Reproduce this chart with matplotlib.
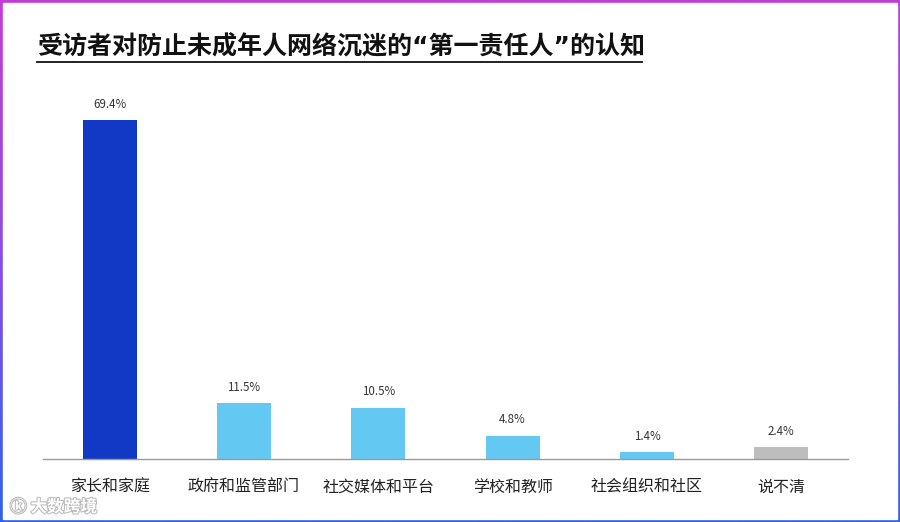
import numpy as np
import matplotlib
matplotlib.use("Agg")
import matplotlib.pyplot as plt
import matplotlib.patheffects as pe
import matplotlib.transforms as mtransforms
from matplotlib.patches import Rectangle

plt.rcParams['font.family'] = ['Noto Sans CJK SC', 'DejaVu Sans']

categories = ['家长和家庭', '政府和监管部门', '社交媒体和平台', '学校和教师', '社会组织和社区', '说不清']
values = [69.4, 11.5, 10.5, 4.8, 1.4, 2.4]
labels = ['69.4%', '11.5%', '10.5%', '4.8%', '1.4%', '2.4%']
colors = ['#1238C6', '#63C8F2', '#63C8F2', '#63C8F2', '#63C8F2', '#BDBDBD']

W, H = 900, 522
fig = plt.figure(figsize=(W / 100, H / 100), dpi=100)

# gradient frame
bg = fig.add_axes([0, 0, 1, 1], zorder=-2)
grad = np.linspace(0, 1, 256).reshape(-1, 1)
cmap = matplotlib.colors.LinearSegmentedColormap.from_list('frame', ['#C23CD6', '#8A4FE0', '#2F63E6'])
bg.imshow(grad, aspect='auto', cmap=cmap, extent=[0, 1, 0, 1], origin='upper')
bg.add_patch(Rectangle((3 / W, 3 / H), 1 - 6 / W, 1 - 6 / H, color='white', transform=bg.transAxes))
bg.set_axis_off()

ax = fig.add_axes([42.5 / W, 1 - 459 / H, 806 / W, 359 / H])
x = np.arange(len(categories))
bars = ax.bar(x, values, width=0.4, color=colors)
ax.set_xlim(-0.5, len(categories) - 0.5)
ax.set_ylim(0, 359 / 4.885)

for b, lab in zip(bars, labels):
    ax.text(b.get_x() + b.get_width() / 2, b.get_height() + 1.9, lab,
            ha='center', va='bottom', fontsize=8.3, color='#333333')

for s in ['top', 'right', 'left']:
    ax.spines[s].set_visible(False)
ax.spines['bottom'].set_color('#9A9A9A')
ax.spines['bottom'].set_linewidth(1)
ax.set_yticks([])
ax.set_xticks(x)
ax.set_xticklabels([])
ax.tick_params(axis='x', length=0)

# category labels on a common baseline
trans = mtransforms.blended_transform_factory(ax.transData, ax.transAxes)
base = -33 / 359
for xi, cat in zip(x, categories):
    ax.text(xi, base, cat, transform=trans, ha='center', va='baseline',
            fontsize=11.5, color='#222222')

# title with underline
fig.text(37 / W, 1 - 47 / H, '受访者对防止未成年人网络沉迷的“第一责任人”的认知',
         fontsize=18, fontweight='bold', ha='left', va='center', color='#111111',
         family=['DejaVu Sans', 'Noto Sans CJK SC'])
fig.add_artist(plt.Line2D([37 / W, 642 / W], [1 - 62 / H, 1 - 62 / H], color='#111111', lw=1.3))

# watermark
fig.text(10 / W, 1 - 507 / H, 'ⓚ 大数跨境', fontsize=12, color='white', ha='left', va='center',
         fontweight='bold',
         path_effects=[pe.withStroke(linewidth=1.5, foreground='#BBBBBB')])

fig.savefig('out.png', dpi=100)
